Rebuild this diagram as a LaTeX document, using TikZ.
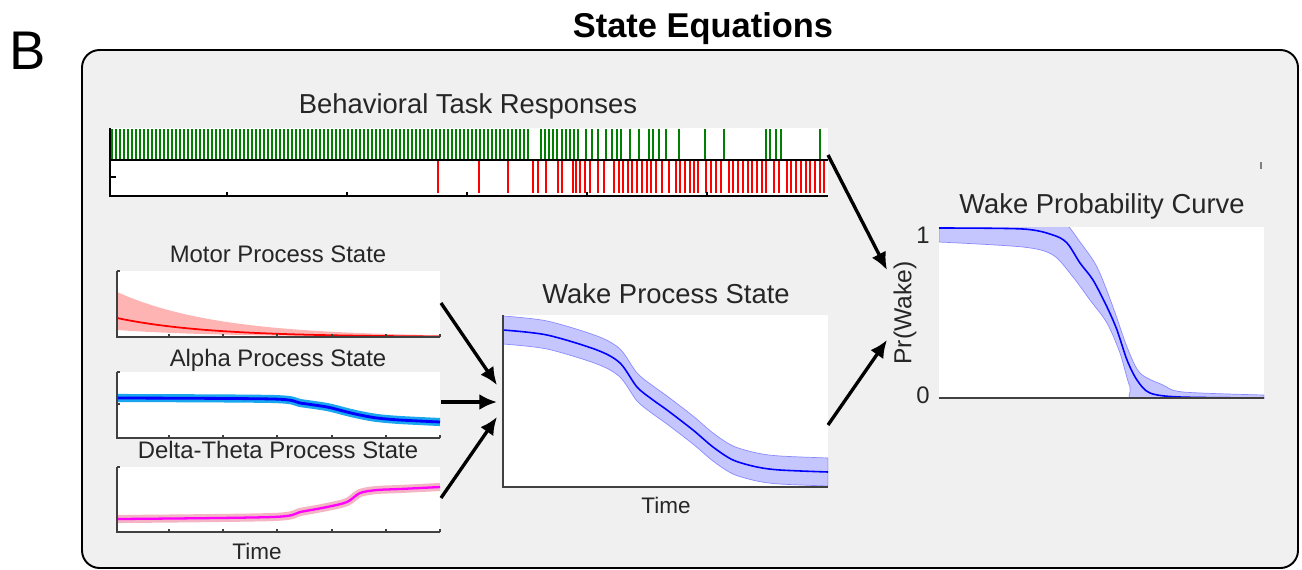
\documentclass[tikz,border=0pt]{standalone}
\usepackage{fontspec}
\setmainfont{Liberation Sans}
\usetikzlibrary{arrows.meta}

\definecolor{bggray}{HTML}{F0F0F0}
\definecolor{txtgray}{HTML}{262626}
\definecolor{axgray}{HTML}{404040}
\definecolor{taskgreen}{HTML}{008000}
\definecolor{taskred}{HTML}{FF0000}
\definecolor{motorband}{HTML}{FFB4B4}
\definecolor{alphaband}{HTML}{1AA6EE}
\definecolor{alphaline}{HTML}{0000FF}
\definecolor{deltaband}{HTML}{F4B4C4}
\definecolor{deltaline}{HTML}{FF00FF}
\definecolor{wakeband}{HTML}{C6C6FF}
\definecolor{wakeedge}{HTML}{8A8AFF}
\definecolor{wakeline}{HTML}{0000FF}

\begin{document}
\begin{tikzpicture}[x=0.02cm, y=-0.02cm, >=Latex,
  lbl/.style={text=txtgray, inner sep=0pt, anchor=base},
  head/.style={lbl, font=\fontsize{15.6pt}{18pt}\selectfont},
  small/.style={lbl, font=\fontsize{13.6pt}{16pt}\selectfont},
  timelbl/.style={lbl, font=\fontsize{12.8pt}{15pt}\selectfont},
  ax/.style={draw=axgray, line width=0.6pt},
  rax/.style={draw=black, line width=1.1pt},
  gtick/.style={draw=taskgreen, line width=0.75pt},
  rtick/.style={draw=taskred, line width=0.75pt},
  arr/.style={->, line width=1.9pt, >={Latex[length=10pt, width=9pt]}}
]
\useasboundingbox (0,0) rectangle (1302,569);

% frame and titles
\filldraw[fill=bggray, draw=black, line width=1.1pt, rounded corners=10pt] (82,50) rectangle (1298,568);
\node[font=\bfseries\fontsize{19.6pt}{23pt}\selectfont, anchor=base, inner sep=0pt] (title) at (703,37) {State Equations};
\node[font=\fontsize{31pt}{36pt}\selectfont, anchor=base, inner sep=0pt] (panelB) at (28,69) {B};

% behavioral task responses
\node[head] (taskTitle) at (468,113) {Behavioral Task Responses};
\fill[white] (110,128) rectangle (828,196);
\foreach \x in {112,116,...,528}
  \draw[gtick] (\x,129) -- (\x,159);
\foreach \x in {541,545,549,553,557,562,566,570,574,578,586,592,598,606,612,617,621,630,639,649,653,659,666,679,705,724,766,770,776,781,820}
  \draw[gtick] (\x,129) -- (\x,159);
\foreach \x in {438,479,508,533,538,546,558,562,573,576,580,585,590,598,604,614,619,623,628,632,637,642,647,651,656,662,669,676,680,685,690,694,698,706,711,716,721,729,733,738,743,748,752,757,762,766,774,779,787,791,796,801,806,810,815,820,824}
  \draw[rtick] (\x,161) -- (\x,193);
\draw[rax] (110,128) -- (110,196) -- (828,196);
\draw[rax] (110,160) -- (828,160);
\draw[rax] (110,177) -- (116,177);
\foreach \x in {227,347,467,587,707}
  \draw[rax] (\x,196) -- (\x,192);
\draw[draw=gray, line width=0.9pt] (1261,162) -- (1261,169);

% motor process state
\node[small] (motorTitle) at (278,262) {Motor Process State};
\fill[white] (117,271) rectangle (440,337);
\fill[motorband] plot[domain=117:440, samples=60] (\x, {337-45*exp(-(\x-117)/100)})
  -- plot[domain=440:117, samples=30] (\x, {337-7*exp(-(\x-117)/100)}) -- cycle;
\draw[taskred, line width=1pt] plot[domain=117:440, samples=60] (\x, {337-19*exp(-(\x-117)/90)});
\draw[ax] (117,271) -- (117,337) -- (440,337);
\draw[ax] (117,271) -- (120,271);
\foreach \x in {169,223,277,332,386,440}
  \draw[ax] (\x,337) -- (\x,334);

% alpha process state
\node[small] (alphaTitle) at (278,366) {Alpha Process State};
\fill[white] (117,372) rectangle (440,438);
\draw[alphaband, line width=4.6pt] plot[smooth] coordinates {(117,398) (273,399) (300,403) (327,407) (347,412) (360,415) (377,418) (400,420) (440,422)};
\draw[alphaline, line width=1.6pt] plot[smooth] coordinates {(117,398) (273,399) (300,403) (327,407) (347,412) (360,415) (377,418) (400,420) (440,422)};
\draw[ax] (117,372) -- (117,438) -- (440,438);
\draw[ax] (117,372) -- (120,372);
\draw[ax] (117,404) -- (120,404);
\foreach \x in {169,223,277,332,386,440}
  \draw[ax] (\x,438) -- (\x,435);

% delta-theta process state
\node[small] (deltaTitle) at (278,458) {Delta-Theta Process State};
\fill[white] (117,467) rectangle (440,532);
\draw[deltaband, line width=4.6pt] plot[smooth] coordinates {(117,519) (273,517) (300,512) (327,507) (347,502) (360,493) (377,490) (400,489) (440,487)};
\draw[deltaline, line width=1.3pt] plot[smooth] coordinates {(117,519) (273,517) (300,512) (327,507) (347,502) (360,493) (377,490) (400,489) (440,487)};
\draw[ax] (117,467) -- (117,532) -- (440,532);
\draw[ax] (117,467) -- (120,467);
\foreach \x in {169,223,277,332,386,440}
  \draw[ax] (\x,532) -- (\x,529);
\node[timelbl] (timeLeft) at (257,559) {Time};

% wake process state
\node[head] (wakeTitle) at (666,303) {Wake Process State};
\fill[white] (503,315) rectangle (828,487);
\begin{scope}
\clip (503,315) rectangle (828,487);
\filldraw[fill=wakeband, draw=wakeedge, line width=0.4pt]
  plot[smooth] coordinates {(503,316) (547,321) (597,336) (620,349) (637,373) (653,386) (667,396) (693,416) (713,433) (733,446) (757,453) (780,456) (828,458)}
  -- plot[smooth] coordinates {(828,486) (780,484) (757,481) (733,474) (713,461) (693,444) (667,424) (653,414) (637,401) (620,377) (597,364) (547,349) (503,344)} -- cycle;
\draw[wakeline, line width=0.9pt] plot[smooth] coordinates {(503,330) (547,335) (597,350) (620,363) (637,387) (653,400) (667,410) (693,430) (713,447) (733,460) (757,467) (780,470) (828,472)};
\end{scope}
\draw[ax, line width=0.8pt] (503,315) -- (503,487) -- (828,487);
\node[timelbl] (timeWake) at (666,513) {Time};

% wake probability curve
\node[head] (probTitle) at (1102,213) {Wake Probability Curve};
\fill[white] (939,227) rectangle (1264,398);
\begin{scope}
\clip (939,227) rectangle (1264,398);
\filldraw[fill=wakeband, draw=wakeedge, line width=0.4pt]
  plot[smooth] coordinates {(939,212) (1023,213) (1053,218) (1067,225) (1080,242) (1097,267) (1113,307) (1127,347) (1140,373) (1163,385) (1183,392) (1264,395)}
  -- plot[smooth] coordinates {(1264,400) (1140,400) (1130,387) (1120,353) (1107,323) (1090,300) (1073,277) (1053,255) (1023,247) (939,242)} -- cycle;
\draw[wakeline, line width=0.9pt] plot[smooth] coordinates {(939,228) (1023,229) (1053,235) (1067,243) (1080,263) (1093,280) (1107,307) (1117,330) (1127,360) (1137,380) (1150,393) (1180,397) (1264,398)};
\end{scope}
\draw[ax, line width=0.8pt] (939,398) -- (1264,398);
\node[small] (probOne) at (923,243) {1};
\node[small] (probZero) at (923,403) {0};
\node[small, rotate=90, anchor=center, font=\fontsize{14pt}{16pt}\selectfont] (probAxis) at (905,313) {Pr(Wake)};

% connectors
\coordinate (taskOut) at (828,155);
\coordinate (probInA) at (887,270);
\coordinate (motorOut) at (441,303);
\coordinate (wakeInA) at (497,385);
\coordinate (alphaOut) at (441,402);
\coordinate (wakeInB) at (497,402);
\coordinate (deltaOut) at (441,498);
\coordinate (wakeInC) at (497,417);
\coordinate (wakeOut) at (828,425);
\coordinate (probInB) at (887,340);
\draw[arr] (taskOut) -- (probInA);
\draw[arr] (motorOut) -- (wakeInA);
\draw[arr] (alphaOut) -- (wakeInB);
\draw[arr] (deltaOut) -- (wakeInC);
\draw[arr] (wakeOut) -- (probInB);
\end{tikzpicture}
\end{document}
